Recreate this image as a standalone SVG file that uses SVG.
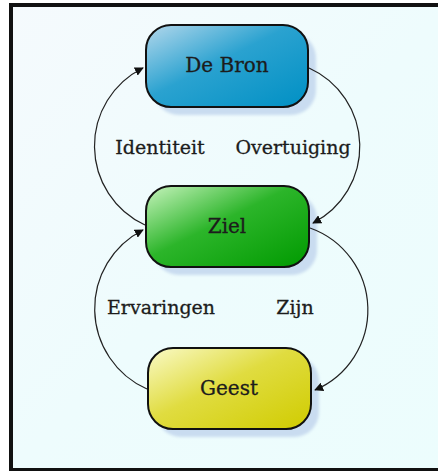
<svg xmlns="http://www.w3.org/2000/svg" width="438" height="471" viewBox="0 0 438 471">
<defs>
<linearGradient id="bg" x1="0" y1="0" x2="1" y2="1">
<stop offset="0" stop-color="#f5fafd"/>
<stop offset="0.5" stop-color="#eefcfd"/>
<stop offset="1" stop-color="#ecfdfd"/>
</linearGradient>
<linearGradient id="gBlue" x1="0" y1="0" x2="1" y2="1">
<stop offset="0" stop-color="#b4d8ec"/>
<stop offset="0.45" stop-color="#2aa2d0"/>
<stop offset="1" stop-color="#0090c4"/>
</linearGradient>
<linearGradient id="gGreen" x1="0" y1="0" x2="1" y2="1">
<stop offset="0" stop-color="#c8f4be"/>
<stop offset="0.45" stop-color="#2cb52a"/>
<stop offset="1" stop-color="#009a00"/>
</linearGradient>
<linearGradient id="gYellow" x1="0" y1="0" x2="1" y2="1">
<stop offset="0" stop-color="#fafac8"/>
<stop offset="0.45" stop-color="#e0dc40"/>
<stop offset="1" stop-color="#d0cc00"/>
</linearGradient>
<filter id="soft" x="-20%" y="-20%" width="140%" height="140%">
<feGaussianBlur stdDeviation="1.5"/>
</filter>
<marker id="arr" viewBox="0 0 10 10" refX="9" refY="5" markerWidth="9" markerHeight="9" markerUnits="userSpaceOnUse" orient="auto">
<path d="M0,0 L10,5 L0,10 Z" fill="#111"/>
</marker>
<style>
.shadow{fill:#c9dcf0;filter:url(#soft)}
.box{stroke:#111;stroke-width:2}
.ntext{font-family:"DejaVu Serif","Liberation Serif",serif;font-size:20px;fill:#1c1c1c;stroke:#1c1c1c;stroke-width:0.3;text-anchor:middle}
.ltext{font-family:"DejaVu Serif","Liberation Serif",serif;font-size:19px;fill:#1c1c1c;stroke:#1c1c1c;stroke-width:0.3;text-anchor:middle}
.edge{fill:none;stroke:#222;stroke-width:1.2}
</style>
</defs>
<rect x="11" y="5" width="440" height="465" fill="url(#bg)" stroke="#111" stroke-width="4"/>
<g id="de-bron">
<rect class="shadow" x="154" y="33" width="162" height="82" rx="25"/>
<rect class="box" x="146" y="25" width="162" height="82" rx="25" fill="url(#gBlue)"/>
<text class="ntext" x="227" y="72">De Bron</text>
</g>
<g id="ziel">
<rect class="shadow" x="154" y="194" width="163" height="81" rx="25"/>
<rect class="box" x="146" y="186" width="163" height="81" rx="25" fill="url(#gGreen)"/>
<text class="ntext" x="227" y="233">Ziel</text>
</g>
<g id="geest">
<rect class="shadow" x="156" y="356" width="163" height="81" rx="25"/>
<rect class="box" x="148" y="348" width="163" height="81" rx="25" fill="url(#gYellow)"/>
<text class="ntext" x="229" y="395">Geest</text>
</g>
<g id="connectors">
<path class="edge" d="M145,225 A87,87 0 0 1 143,68" marker-end="url(#arr)"/>
<path class="edge" d="M309,68 A86,86 0 0 1 313,223" marker-end="url(#arr)"/>
<path class="edge" d="M147,389 A88,88 0 0 1 143,230" marker-end="url(#arr)"/>
<path class="edge" d="M310,228 A87,87 0 0 1 315,390" marker-end="url(#arr)"/>
<text class="ltext" x="160" y="154">Identiteit</text>
<text class="ltext" x="293" y="154">Overtuiging</text>
<text class="ltext" x="161" y="314">Ervaringen</text>
<text class="ltext" x="295" y="314">Zijn</text>
</g>
</svg>
